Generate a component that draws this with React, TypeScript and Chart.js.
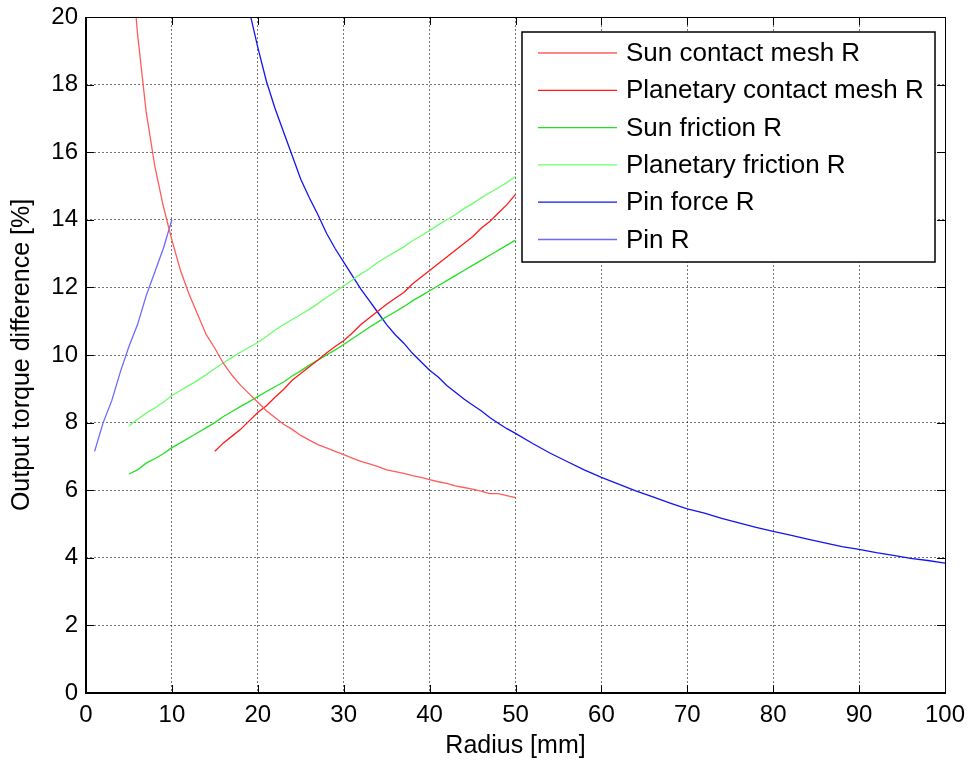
import React, { useEffect, useRef } from 'react';
import { Chart, registerables } from 'chart.js';

Chart.register(...registerables);

const FONT = "'Liberation Sans', Arial, Helvetica, sans-serif";

// ---- axis ticks ----
const xTickValues = [0, 10, 20, 30, 40, 50, 60, 70, 80, 90, 100];
const yTickValues = [0, 2, 4, 6, 8, 10, 12, 14, 16, 18, 20];

// ---- series labels ----
const seriesLabels = [
  'Sun contact mesh R',
  'Planetary contact mesh R',
  'Sun friction R',
  'Planetary friction R',
  'Pin force R',
  'Pin R',
];

// ---- data ----
const sunMeshRadius = [5, 6, 7, 8, 9, 10, 11, 12, 13, 14, 15, 16, 17, 18, 19, 20, 21, 22, 23, 24, 25, 26, 27, 28, 29, 30, 31, 32, 33, 34, 35, 36, 37, 38, 39, 40, 41, 42, 43, 44, 45, 46, 47, 48, 49, 50];
const sunMeshValues = [22.5, 19.5, 17.2, 15.6, 14.4, 13.4, 12.5, 11.8, 11.2, 10.6, 10.2, 9.75, 9.4, 9.1, 8.85, 8.6, 8.35, 8.15, 7.95, 7.8, 7.62, 7.48, 7.35, 7.25, 7.15, 7.05, 6.95, 6.85, 6.78, 6.7, 6.6, 6.55, 6.5, 6.43, 6.38, 6.31, 6.25, 6.2, 6.13, 6.08, 6.03, 5.97, 5.9, 5.9, 5.84, 5.78];

const planetMeshRadius = [15, 16, 17, 18, 19, 20, 21, 22, 23, 24, 25, 26, 27, 28, 29, 30, 31, 32, 33, 34, 35, 36, 37, 38, 39, 40, 41, 42, 43, 44, 45, 46, 47, 48, 49, 50];
const planetMeshValues = [7.15, 7.4, 7.6, 7.8, 8.05, 8.3, 8.5, 8.75, 8.98, 9.25, 9.45, 9.65, 9.85, 10.06, 10.25, 10.42, 10.65, 10.9, 11.1, 11.3, 11.5, 11.68, 11.85, 12.1, 12.3, 12.5, 12.7, 12.9, 13.1, 13.3, 13.5, 13.75, 13.95, 14.2, 14.45, 14.75];

const sunFrictionRadius = [5, 6, 7, 8, 9, 10, 11, 12, 13, 14, 15, 16, 17, 18, 19, 20, 21, 22, 23, 24, 25, 26, 27, 28, 29, 30, 31, 32, 33, 34, 35, 36, 37, 38, 39, 40, 41, 42, 43, 44, 45, 46, 47, 48, 49, 50];
const sunFrictionValues = [6.48, 6.6, 6.8, 6.93, 7.08, 7.26, 7.4, 7.55, 7.7, 7.85, 8.0, 8.18, 8.33, 8.48, 8.62, 8.77, 8.92, 9.06, 9.2, 9.38, 9.53, 9.7, 9.85, 10.0, 10.15, 10.31, 10.48, 10.65, 10.82, 10.98, 11.13, 11.28, 11.43, 11.6, 11.75, 11.9, 12.05, 12.2, 12.35, 12.5, 12.65, 12.8, 12.95, 13.1, 13.25, 13.4];

const planetFrictionRadius = [5, 6, 7, 8, 9, 10, 11, 12, 13, 14, 15, 16, 17, 18, 19, 20, 21, 22, 23, 24, 25, 26, 27, 28, 29, 30, 31, 32, 33, 34, 35, 36, 37, 38, 39, 40, 41, 42, 43, 44, 45, 46, 47, 48, 49, 50];
const planetFrictionValues = [7.9, 8.1, 8.28, 8.43, 8.6, 8.8, 8.95, 9.1, 9.25, 9.42, 9.6, 9.77, 9.93, 10.08, 10.23, 10.37, 10.55, 10.73, 10.9, 11.05, 11.2, 11.35, 11.52, 11.7, 11.87, 12.04, 12.22, 12.4, 12.55, 12.75, 12.9, 13.05, 13.2, 13.38, 13.53, 13.68, 13.85, 14.0, 14.15, 14.33, 14.48, 14.65, 14.8, 14.95, 15.1, 15.28];

const pinForceRadius = [18, 19, 20, 21, 22, 23, 24, 25, 26, 27, 28, 29, 30, 31, 32, 33, 34, 35, 36, 37, 38, 39, 40, 41, 42, 43, 44, 45, 46, 47, 48, 49, 50, 52, 54, 56, 58, 60, 62, 64, 66, 68, 70, 72, 74, 76, 78, 80, 82, 84, 86, 88, 90, 92, 94, 96, 98, 100];
const pinForceValues = [21.3, 20.2, 19.1, 18.1, 17.3, 16.6, 15.9, 15.2, 14.65, 14.15, 13.6, 13.15, 12.75, 12.35, 11.95, 11.6, 11.25, 10.9, 10.6, 10.35, 10.05, 9.8, 9.55, 9.35, 9.1, 8.9, 8.7, 8.52, 8.35, 8.15, 7.98, 7.82, 7.68, 7.38, 7.1, 6.85, 6.6, 6.38, 6.18, 5.98, 5.8, 5.62, 5.45, 5.32, 5.17, 5.03, 4.9, 4.78, 4.67, 4.55, 4.44, 4.33, 4.25, 4.15, 4.07, 3.98, 3.92, 3.84];

const pinRadius = [1, 2, 3, 4, 5, 6, 7, 8, 9, 10];
const pinValues = [7.15, 8.0, 8.65, 9.5, 10.25, 10.9, 11.75, 12.45, 13.15, 14.0];

// ---- styles ----
const seriesColors = ['#ff5c5c', '#ff1a1a', '#22e022', '#6cff6c', '#1414ee', '#6a6aff'];

const toPoints = (xs: number[], ys: number[]) => xs.map((x, i) => ({ x, y: ys[i] }));

const matlabPlugin = {
  id: 'matlabFrame',
  afterDraw(chart: any) {
    const { ctx, chartArea: a, scales } = chart;
    const xs = scales.x;
    const ys = scales.y;
    ctx.save();
    ctx.strokeStyle = '#000';
    ctx.lineWidth = 1;
    const tl = 8;
    ctx.beginPath();
    for (const v of xTickValues) {
      const px = Math.round(xs.getPixelForValue(v)) + 0.5;
      ctx.moveTo(px, a.bottom);
      ctx.lineTo(px, a.bottom - tl);
      ctx.moveTo(px, a.top);
      ctx.lineTo(px, a.top + tl);
    }
    for (const v of yTickValues) {
      const py = Math.round(ys.getPixelForValue(v)) + 0.5;
      ctx.moveTo(a.left, py);
      ctx.lineTo(a.left + tl, py);
      ctx.moveTo(a.right, py);
      ctx.lineTo(a.right - tl, py);
    }
    ctx.stroke();
    // frame
    ctx.beginPath();
    ctx.lineWidth = 1;
    ctx.moveTo(a.left, a.top + 0.5);
    ctx.lineTo(a.right, a.top + 0.5);
    ctx.moveTo(a.right + 0.5, a.top);
    ctx.lineTo(a.right + 0.5, a.bottom);
    ctx.stroke();
    ctx.beginPath();
    ctx.lineWidth = 2;
    ctx.moveTo(a.left, a.top);
    ctx.lineTo(a.left, a.bottom);
    ctx.lineTo(a.right + 1, a.bottom);
    ctx.stroke();

    // legend
    const bw = 413;
    const bh = 230;
    const bx = a.right - 10 - bw;
    const by = a.top + 15;
    ctx.fillStyle = '#fff';
    ctx.fillRect(bx, by, bw, bh);
    ctx.lineWidth = 1.5;
    ctx.strokeStyle = '#000';
    ctx.strokeRect(bx, by, bw, bh);
    ctx.font = `26px ${FONT}`;
    ctx.textBaseline = 'middle';
    ctx.textAlign = 'left';
    chart.data.datasets.forEach((ds: any, i: number) => {
      const ry = by + 21 + i * 37.3;
      ctx.beginPath();
      ctx.strokeStyle = ds.borderColor;
      ctx.lineWidth = 1.3;
      ctx.moveTo(bx + 16, ry);
      ctx.lineTo(bx + 95, ry);
      ctx.stroke();
      ctx.fillStyle = '#000';
      ctx.fillText(ds.label, bx + 104, ry + 1);
    });
    ctx.restore();
  },
};

export default function App() {
  const ref = useRef<HTMLCanvasElement | null>(null);
  useEffect(() => {
    if (!ref.current) return;
    Chart.defaults.font.family = FONT;
    const xsArr = [sunMeshRadius, planetMeshRadius, sunFrictionRadius, planetFrictionRadius, pinForceRadius, pinRadius];
    const ysArr = [sunMeshValues, planetMeshValues, sunFrictionValues, planetFrictionValues, pinForceValues, pinValues];
    const chart = new Chart(ref.current, {
      type: 'line',
      data: {
        datasets: seriesLabels.map((label, i) => ({
          label,
          data: toPoints(xsArr[i], ysArr[i]),
          borderColor: seriesColors[i],
          backgroundColor: seriesColors[i],
          borderWidth: 1.3,
          pointRadius: 0,
          tension: 0,
          fill: false,
        })),
      },
      options: {
        responsive: false,
        animation: false,
        devicePixelRatio: 1,
        layout: { padding: { top: 17, right: 26, left: 0, bottom: 0 } },
        plugins: { legend: { display: false }, tooltip: { enabled: false } },
        scales: {
          x: {
            type: 'linear',
            min: 0,
            max: 100,
            afterBuildTicks: (s: any) => {
              s.ticks = xTickValues.map((v) => ({ value: v }));
            },
            afterFit: (s: any) => {
              s.height = 71;
              s.paddingLeft = 0;
              s.paddingRight = 0;
            },
            ticks: { font: { size: 24 }, color: '#000', padding: 8, maxRotation: 0, autoSkip: false },
            grid: { color: 'rgba(0,0,0,0.55)', lineWidth: 1, drawTicks: false },
            border: { display: false, dash: [2, 2] },
            title: { display: true, text: 'Radius [mm]', font: { size: 25 }, color: '#000', padding: { top: 0, bottom: 3 } },
          },
          y: {
            type: 'linear',
            min: 0,
            max: 20,
            afterBuildTicks: (s: any) => {
              s.ticks = yTickValues.map((v) => ({ value: v }));
            },
            afterFit: (s: any) => {
              s.width = 86;
              s.paddingTop = 0;
              s.paddingBottom = 0;
            },
            ticks: { font: { size: 24 }, color: '#000', padding: 8, autoSkip: false },
            grid: { color: 'rgba(0,0,0,0.55)', lineWidth: 1, drawTicks: false },
            border: { display: false, dash: [2, 2] },
            title: { display: true, text: 'Output torque difference [%]', font: { size: 25 }, color: '#000', padding: { top: 7, bottom: 0 } },
          },
        },
      },
      plugins: [matlabPlugin],
    } as any);
    return () => chart.destroy();
  }, []);
  return (
    <div style={{ position: 'absolute', left: 0, top: 0, width: 971, height: 764, background: '#fff' }}>
      <canvas ref={ref} width={971} height={764} />
    </div>
  );
}
